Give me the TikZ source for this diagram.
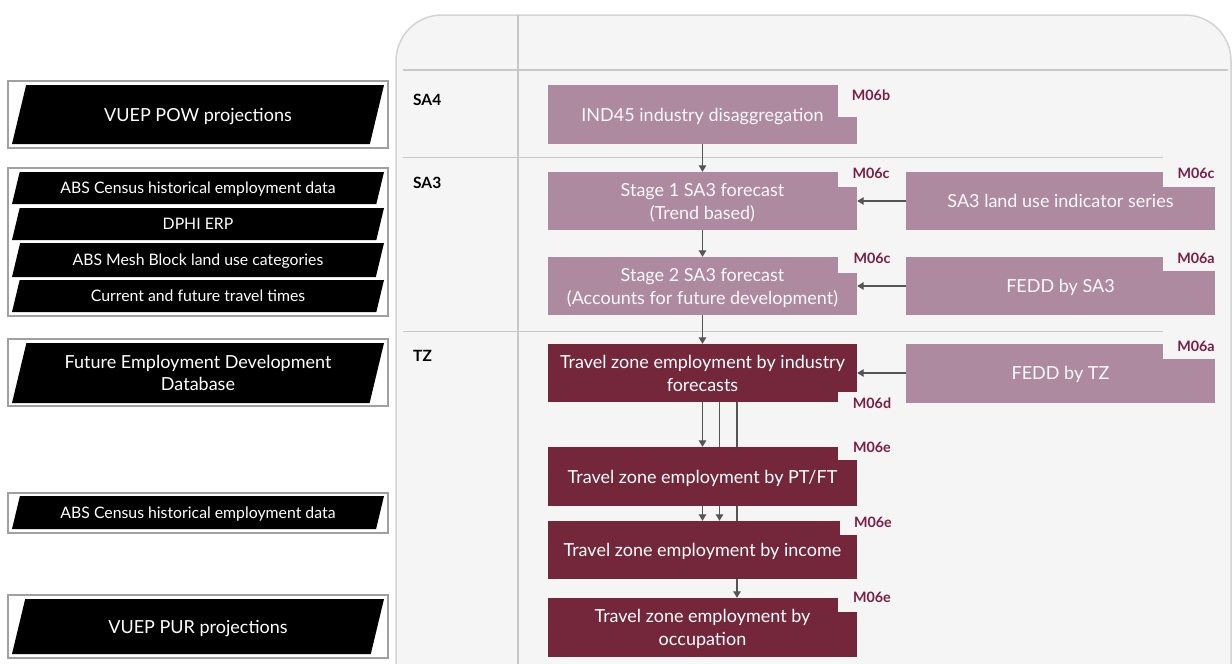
\documentclass[tikz,border=0pt]{standalone}
\usepackage{fontspec}
\setmainfont{Lato}
\usetikzlibrary{arrows.meta}

\definecolor{panelbg}{HTML}{F5F5F5}
\definecolor{panelline}{HTML}{D4D4D4}
\definecolor{gridline}{HTML}{C8C8C8}
\definecolor{mauve}{HTML}{AE8AA0}
\definecolor{maroon}{HTML}{74263B}
\definecolor{tagred}{HTML}{7B1E45}
\definecolor{arrowgray}{HTML}{555555}
\definecolor{framegray}{HTML}{A0A0A0}

\pgfdeclarelayer{back}
\pgfdeclarelayer{edges}
\pgfsetlayers{back,edges,main}

% black slanted input bar with its caption: name, top, bottom, font, text
\newcommand{\inputbar}[5]{%
  \pgfmathsetmacro\barslant{0.24*(#3-#2)}%
  \fill[black] (12,#3) -- ({12+\barslant},#2) -- (384,#2) -- ({384-\barslant},#3) -- cycle;
  \node[bartext, font=#4] (#1) at (198,{(#2+#3)/2}) {#5};
}
\newcommand{\barbig}{\fontsize{18}{22}\selectfont}
\newcommand{\barsmall}{\fontsize{15.8}{18}\selectfont}

\begin{document}
\begin{tikzpicture}[x=1pt,y=-1pt,
  stage/.style={draw=none, inner sep=0pt, align=center, text depth=0pt,
    font=\fontsize{18}{23}\selectfont},
  light/.style={stage, fill=mauve, text=white!95!mauve},
  dark/.style={stage, fill=maroon, text=white},
  tag/.style={font=\bfseries\fontsize{14.3}{15}\selectfont, text=tagred, inner sep=0pt},
  level/.style={font=\bfseries\fontsize{15.5}{19}\selectfont, anchor=west, inner sep=0pt},
  flow/.style={draw=arrowgray, line width=1.3pt, -{Triangle[width=7.5pt,length=6.5pt]}},
  frame/.style={draw=framegray, line width=1.2pt, fill=white},
  bartext/.style={text=white, align=center, inner sep=0pt, text depth=0pt},
]
\useasboundingbox (0,0) rectangle (1232,664);
\clip (0,0) rectangle (1232,664);

% ---------- swimlane panel ----------
\begin{pgfonlayer}{back}
  \fill[white] (0,0) rectangle (1232,664);
  \draw[panelline, fill=panelbg, line width=1.5pt, rounded corners=46pt]
    (396,15) rectangle (1231,710);
  \draw[gridline, line width=1.6pt] (518,15) -- (518,664);
  \draw[gridline, line width=1.6pt] (403,70) -- (1228,70);
  \draw[gridline, line width=1.6pt] (403,157.5) -- (1163,157.5);
  \draw[gridline, line width=1.6pt] (403,331.5) -- (1163,331.5);
\end{pgfonlayer}

\node[level] (lsa4) at (413,100) {SA4};
\node[level] (lsa3) at (413,183) {SA3};
\node[level] (ltz)  at (413,356) {TZ};

% ---------- input data sources ----------
\draw[frame] (8,81) rectangle (388,148);
\inputbar{pow}{85}{144}{\barbig}{VUEP POW projections}

\draw[frame] (8,168) rectangle (388,316);
\inputbar{census}{172}{204}{\barsmall}{ABS Census historical employment data}
\inputbar{erp}{208}{240}{\barsmall}{DPHI ERP}
\inputbar{mesh}{243}{277}{\barsmall}{ABS Mesh Block land use categories}
\inputbar{times}{280}{312}{\barsmall}{Current and future travel times}

\draw[frame] (8,339) rectangle (388,406);
\inputbar{fedd}{343}{403}{\barbig}{Future Employment Development\\Database}

\draw[frame] (8,493) rectangle (388,533);
\inputbar{censustz}{496}{529}{\barsmall}{ABS Census historical employment data}

\draw[frame] (8,595) rectangle (388,658);
\inputbar{pur}{599}{654}{\barbig}{VUEP PUR projections}

% ---------- model steps ----------
\node[light, minimum width=309pt, minimum height=59pt] (ind) at (702.5,114.5) {IND45 industry disaggregation};
\node[light, minimum width=309pt, minimum height=58pt] (s1) at (702.5,201) {Stage 1 SA3 forecast\\(Trend based)};
\node[light, minimum width=309pt, minimum height=58pt] (s2) at (702.5,286) {Stage 2 SA3 forecast\\(Accounts for future development)};
\node[light, minimum width=309pt, minimum height=58pt] (lu) at (1060.5,201) {SA3 land use indicator series};
\node[light, minimum width=309pt, minimum height=58pt] (fs) at (1060.5,286) {FEDD by SA3};
\node[light, minimum width=309pt, minimum height=59pt] (ft) at (1060.5,373) {FEDD by TZ};
\node[dark, minimum width=309pt, minimum height=58pt] (ti) at (702.5,373) {Travel zone employment by industry\\forecasts};
\node[dark, minimum width=309pt, minimum height=59pt] (pf) at (702.5,476.5) {Travel zone employment by PT/FT};
\node[dark, minimum width=309pt, minimum height=58pt] (inc) at (702.5,550) {Travel zone employment by income};
\node[dark, minimum width=309pt, minimum height=59pt] (occ) at (702.5,627.5) {Travel zone employment by\\occupation};

% notches cut out of the box corners for the module tags
\fill[panelbg] (838,84.5) rectangle (858,117);
\fill[panelbg] (838,171.5) rectangle (858,187);
\fill[panelbg] (838,256.5) rectangle (858,273);
\fill[panelbg] (1163,171.5) rectangle (1216,187);
\fill[panelbg] (1163,256.5) rectangle (1216,271);
\fill[panelbg] (1163,342.5) rectangle (1216,359);
\fill[panelbg] (838,392) rectangle (858,402.5);
\fill[panelbg] (838,446.5) rectangle (858,460);
\fill[panelbg] (840,520.5) rectangle (858,535);
\fill[panelbg] (838,597.5) rectangle (858,612);

\node[tag] (tind) at (871,95) {M06b};
\node[tag] (ts1)  at (871,173) {M06c};
\node[tag] (ts2)  at (872,258) {M06c};
\node[tag] (tlu)  at (1196,173) {M06c};
\node[tag] (tfs)  at (1196,258) {M06a};
\node[tag] (tft)  at (1196,346) {M06a};
\node[tag] (tti)  at (872,403) {M06d};
\node[tag] (tpf)  at (872,447) {M06e};
\node[tag] (tinc) at (873,522) {M06e};
\node[tag] (tocc) at (872,597) {M06e};

% ---------- connectors ----------
\begin{pgfonlayer}{edges}
  \draw[flow] (ind.south) -- (s1.north);
  \draw[flow] (s1.south) -- (s2.north);
  \draw[flow] (s2.south) -- (ti.north);
  \draw[flow] (lu.west) -- (s1.east);
  \draw[flow] (fs.west) -- (s2.east);
  \draw[flow] (ft.west) -- (ti.east);
  \draw[flow] (ti.south) -- (pf.north);
  \draw[flow] ([xshift=17pt]ti.south) -- ([xshift=17pt]inc.north);
  \draw[flow] ([xshift=34.5pt]ti.south) -- ([xshift=34.5pt]occ.north);
  \draw[flow] (pf.south) -- (inc.north);
\end{pgfonlayer}
\end{tikzpicture}
\end{document}
